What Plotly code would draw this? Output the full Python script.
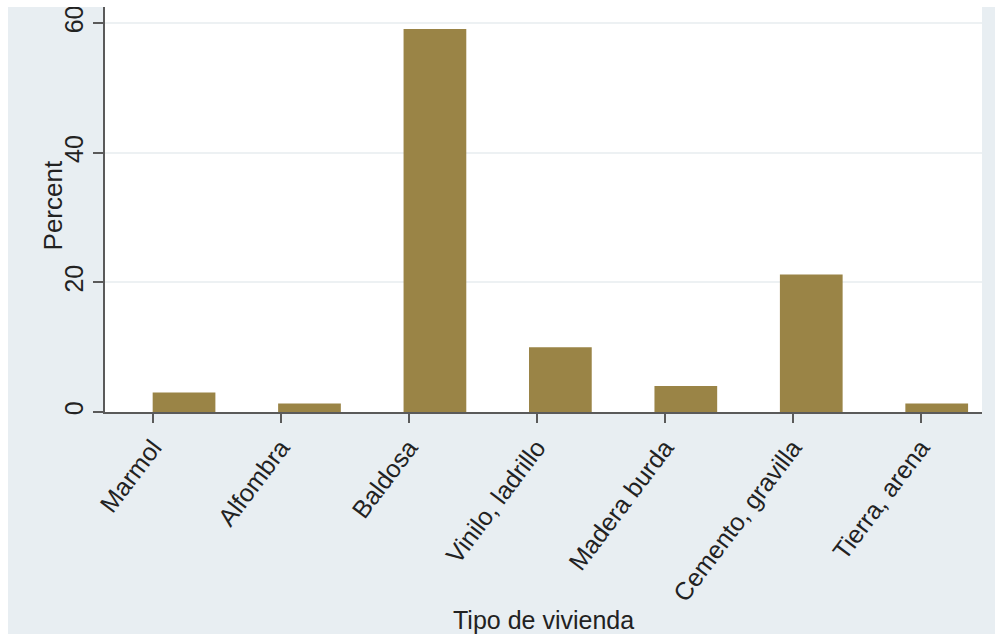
import plotly.graph_objects as go

categories = ["Marmol", "Alfombra", "Baldosa", "Vinilo, ladrillo",
              "Madera burda", "Cemento, gravilla", "Tierra, arena"]
codes = [1, 2, 3, 4, 5, 6, 7]
percent = [3.0, 1.3, 59.1, 10.0, 4.0, 21.2, 1.3]
y_ticks = [0, 20, 40, 60]

BAR = "#9a8446"
AX = "#5a5a5a"
BG = "#e8eef2"
FONT = "Liberation Sans, Arial, sans-serif"

fig = go.Figure()
fig.add_trace(go.Bar(x=categories, y=percent, width=0.5,
                     marker=dict(color=BAR, line=dict(width=0)),
                     xaxis="x", yaxis="y", showlegend=False))
# carrier trace (no visible marks) so the label axis is drawn
fig.add_trace(go.Scatter(x=codes, y=[None] * len(codes), mode="markers",
                         xaxis="x2", yaxis="y", hoverinfo="skip",
                         showlegend=False))

fig.update_layout(
    width=995, height=634,
    margin=dict(l=105, r=13, t=7, b=222),
    paper_bgcolor=BG, plot_bgcolor="white",
    font=dict(family=FONT, size=24, color="#222"),
    showlegend=False,
    xaxis=dict(type="category", categoryorder="array", categoryarray=categories,
               range=[-0.63, 6.361], showticklabels=False, ticks="",
               showline=True, linecolor=AX, linewidth=1.6,
               showgrid=False, zeroline=False),
    xaxis2=dict(overlaying="x", anchor="y", side="bottom",
                range=[0.627, 7.477], tickmode="array", tickvals=codes,
                ticktext=categories, tickangle=-53, ticks="outside",
                ticklen=10, tickwidth=1.6, tickcolor=AX,
                tickfont=dict(size=25, family=FONT, color="#222"),
                showline=False, showgrid=False, zeroline=False),
    yaxis=dict(range=[0, 62.5], tickmode="array", tickvals=y_ticks,
               tickangle=-90, ticks="outside", ticklen=10, tickwidth=1.6,
               tickcolor=AX, showline=True, linecolor=AX, linewidth=1.6,
               showgrid=True, gridcolor="#edf1f3", gridwidth=2,
               zeroline=False, tickfont=dict(size=25)),
    annotations=[
        dict(text="Percent", xref="paper", yref="paper", x=-0.0593, y=0.51,
             xanchor="center", yanchor="middle", textangle=-90,
             showarrow=False, font=dict(size=26)),
        dict(text="Tipo de vivienda", xref="paper", yref="paper", x=0.5, y=-0.514,
             xanchor="center", yanchor="middle",
             showarrow=False, font=dict(size=25)),
    ],
    shapes=[
        dict(type="rect", xref="paper", yref="paper", x0=-0.2, x1=-0.1106,
             y0=-1, y1=2, fillcolor="white", line=dict(width=0), layer="above"),
        dict(type="rect", xref="paper", yref="paper", x0=-0.2, x1=1.2,
             y0=1.0, y1=1.1, fillcolor="white", line=dict(width=0), layer="above"),
    ],
)

fig.write_html("out.html")
